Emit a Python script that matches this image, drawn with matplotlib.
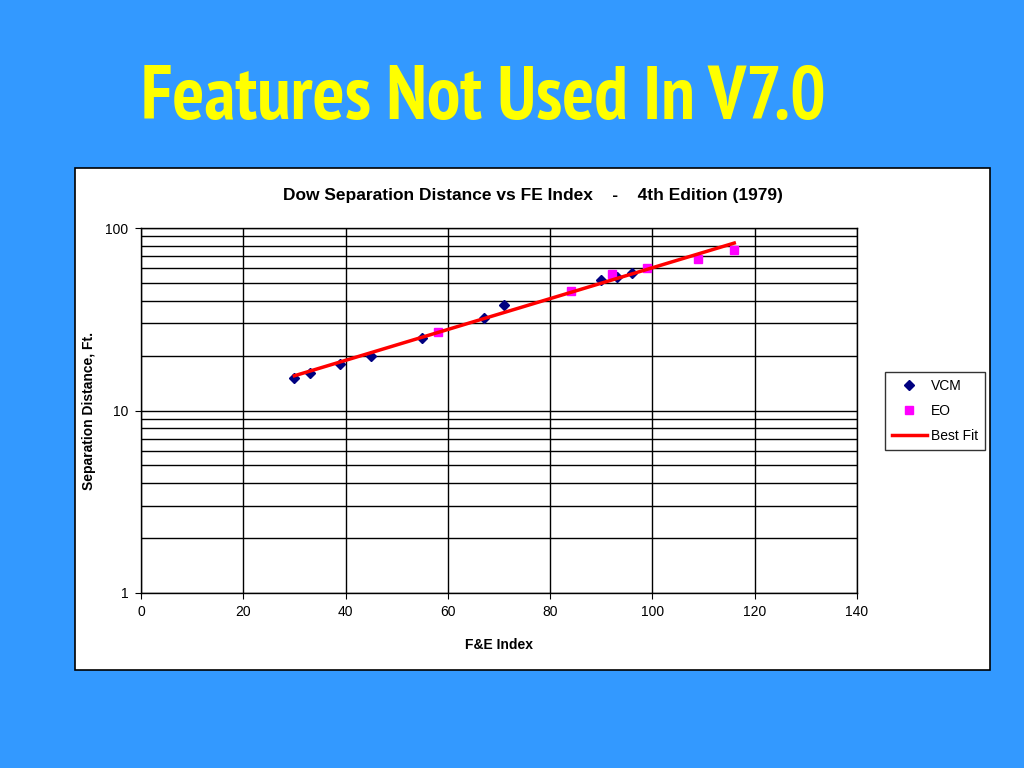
import numpy as np
import matplotlib
matplotlib.use('Agg')
import matplotlib.pyplot as plt
from matplotlib.patches import Rectangle
from matplotlib.ticker import LogLocator, FixedLocator, NullFormatter, FuncFormatter

# dados
vcm_x = [30, 33, 39, 45, 55, 67, 71, 90, 93, 96]
vcm_y = [15, 16, 18, 20, 25, 32, 38, 52, 54, 57]

eo_x = [58, 84, 92, 99, 109, 116]
eo_y = [27, 45, 56, 60, 68, 76]

fit_x = [30, 116]
fit_y = [15.5, 82.7]

x_ticks = [0, 20, 40, 60, 80, 100, 120, 140]

BG = '#3399FF'

plt.rcParams['font.family'] = ['Liberation Sans', 'DejaVu Sans']

fig = plt.figure(figsize=(10.24, 7.68), dpi=100)
fig.patch.set_facecolor(BG)

# titulo do slide
fig.text(0.472, 0.870, 'Features Not Used In V7.0', ha='center', va='center',
         fontsize=54, fontweight='bold', color='#FFFF00',
         family=['PT Sans Narrow', 'Roboto Condensed', 'Liberation Sans', 'DejaVu Sans'])

# painel branco do grafico
fig.patches.append(Rectangle((75 / 1024, 1 - 670 / 768), 915 / 1024, 502 / 768,
                             transform=fig.transFigure, facecolor='white',
                             edgecolor='black', linewidth=1.2, zorder=-1))

ax = fig.add_axes([141 / 1024, 1 - 593 / 768, 716 / 1024, 365 / 768])
ax.set_facecolor('white')

ax.set_yscale('log')
ax.set_xlim(0, 140)
ax.set_ylim(1, 100)

ax.xaxis.set_major_locator(FixedLocator(x_ticks))
ax.yaxis.set_major_locator(FixedLocator([1, 10, 100]))
ax.yaxis.set_major_formatter(FuncFormatter(lambda v, p: f'{v:g}'))
ax.yaxis.set_minor_locator(LogLocator(base=10, subs=np.arange(2, 10)))
ax.yaxis.set_minor_formatter(NullFormatter())

ax.grid(True, which='major', axis='both', color='black', linewidth=1)
ax.grid(True, which='minor', axis='y', color='black', linewidth=1)
ax.set_axisbelow(True)

for s in ax.spines.values():
    s.set_linewidth(1)
    s.set_color('black')

ax.tick_params(axis='both', which='major', direction='out', length=4,
               labelsize=10, pad=5, color='black')
ax.tick_params(axis='y', which='minor', length=0)

ax.plot(vcm_x, vcm_y, linestyle='none', marker='D', markersize=5.5,
        color='#000080', label='VCM', zorder=3, clip_on=False)
ax.plot(eo_x, eo_y, linestyle='none', marker='s', markersize=6,
        color='#FF00FF', label='EO', zorder=3, clip_on=False)
ax.plot(fit_x, fit_y, color='#FF0000', linewidth=2.5, label='Best Fit', zorder=4)

ax.set_title('Dow Separation Distance vs FE Index    -    4th Edition (1979)',
             fontsize=12.5, fontweight='bold', pad=20, x=0.547)
ax.set_xlabel('F&E Index', fontsize=10, fontweight='bold', labelpad=13)
ax.set_ylabel('Separation Distance, Ft.', fontsize=10, fontweight='bold', labelpad=7)

leg = fig.legend(loc='upper left', bbox_to_anchor=(885 / 1024, 1 - 372 / 768),
                 fontsize=10, frameon=True, fancybox=False, edgecolor='black',
                 handlelength=2.5, borderpad=0.5, labelspacing=0.8,
                 handletextpad=0.3, borderaxespad=0)
leg.get_frame().set_linewidth(1)

plt.savefig('out.png', dpi=100, facecolor=fig.get_facecolor())
